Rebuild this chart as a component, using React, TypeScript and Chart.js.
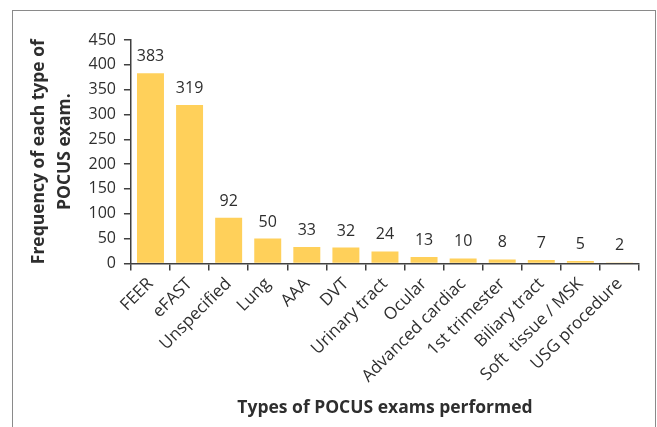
import React, { useEffect, useRef } from "react";
import { Chart, registerables } from "chart.js";

Chart.register(...registerables);

const categories = [
  "FEER",
  "eFAST",
  "Unspecified",
  "Lung",
  "AAA",
  "DVT",
  "Urinary tract",
  "Ocular",
  "Advanced cardiac",
  "1st trimester",
  "Biliary tract",
  "Soft  tissue / MSK",
  "USG procedure",
];
const frequencies = [383, 319, 92, 50, 33, 32, 24, 13, 10, 8, 7, 5, 2];
const yTitle = ["Frequency of each type of", "POCUS exam."];
const xTitle = "Types of POCUS exams performed";

const FONT = "'Open Sans', Lato, sans-serif";
const TEXT = "#2e2e2e";
const AXIS = "#404040";

const valueLabels = {
  id: "valueLabels",
  afterDatasetsDraw(chart: any) {
    const { ctx } = chart;
    const meta = chart.getDatasetMeta(0);
    ctx.save();
    ctx.font = `16px ${FONT}`;
    ctx.fillStyle = TEXT;
    ctx.textAlign = "center";
    ctx.textBaseline = "alphabetic";
    meta.data.forEach((bar: any, i: number) => {
      ctx.fillText(String(frequencies[i]), bar.x, bar.y - 12);
    });
    ctx.restore();
  },
};

export default function App() {
  const ref = useRef<HTMLCanvasElement | null>(null);
  useEffect(() => {
    if (!ref.current) return;
    const chart = new Chart(ref.current, {
      type: "bar",
      data: {
        labels: categories,
        datasets: [
          {
            data: frequencies,
            backgroundColor: "#FFD05A",
            barPercentage: 0.69,
            categoryPercentage: 1,
          },
        ],
      },
      options: {
        animation: false,
        responsive: false,
        maintainAspectRatio: false,
        layout: { padding: { left: 26, top: 40, right: 18, bottom: 8 } },
        plugins: { legend: { display: false }, tooltip: { enabled: false } },
        scales: {
          x: {
            border: { display: true, color: AXIS, width: 1.5 },
            grid: {
              display: true,
              drawOnChartArea: false,
              drawTicks: true,
              tickLength: 7,
              color: AXIS,
              lineWidth: 1.5,
              offset: true,
            },
            ticks: {
              autoSkip: false,
              maxRotation: 45,
              minRotation: 45,
              color: TEXT,
              font: { family: FONT, size: 17 },
              padding: 3.5,
            },
            title: {
              display: true,
              text: xTitle,
              color: TEXT,
              font: { family: FONT, size: 17.5, weight: "bold" },
              padding: { top: 8, bottom: 0 },
            },
          },
          y: {
            min: 0,
            max: 450,
            border: { display: true, color: AXIS, width: 1.5 },
            grid: {
              display: true,
              drawOnChartArea: false,
              drawTicks: true,
              tickLength: 7,
              color: AXIS,
              lineWidth: 1.5,
            },
            ticks: {
              stepSize: 50,
              color: TEXT,
              font: { family: FONT, size: 16 },
              padding: 8,
            },
            title: {
              display: true,
              text: yTitle,
              color: TEXT,
              font: { family: FONT, size: 17.5, weight: "bold", lineHeight: 1.5 },
              padding: { top: 0, bottom: 2 },
            },
          },
        },
      },
      plugins: [valueLabels],
    });
    return () => chart.destroy();
  }, []);
  return (
    <div style={{ position: "absolute", left: 0, top: 0, width: 657, height: 427, background: "#fff" }}>
      <div
        style={{
          position: "absolute",
          left: 12,
          top: 10,
          width: 644,
          height: 430,
          border: "1.5px solid #8a8a8a",
          boxSizing: "border-box",
        }}
      />
      <canvas ref={ref} width={657} height={427} style={{ position: "absolute", left: 0, top: 0 }} />
    </div>
  );
}
